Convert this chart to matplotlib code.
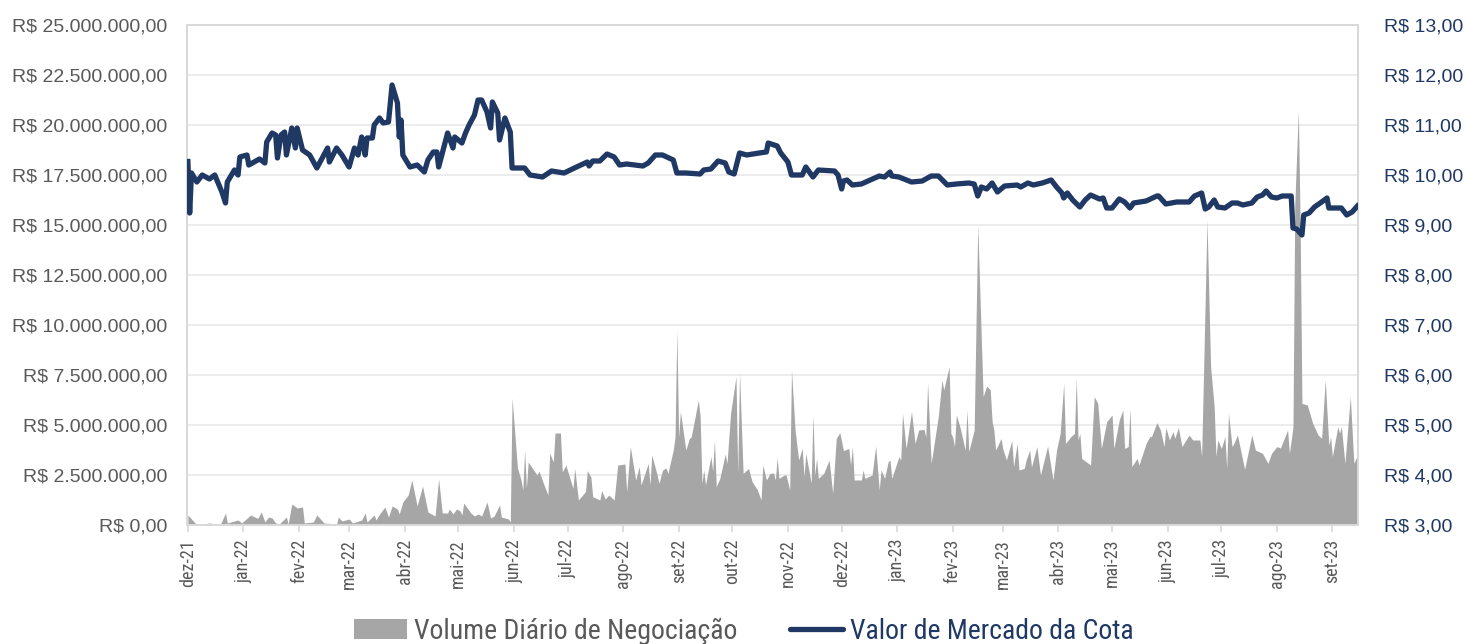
import numpy as np
import pandas as pd
import matplotlib
matplotlib.use('Agg')
import matplotlib.pyplot as plt
import matplotlib.dates as mdates
from matplotlib import font_manager
from matplotlib.font_manager import FontProperties
from matplotlib.patches import Patch
from matplotlib.lines import Line2D
from matplotlib.ticker import FuncFormatter

# dados (dias contados a partir de 01/12/2021)
start = pd.Timestamp('2021-12-01')

price_days = [0, 1, 2, 5, 8, 12, 15, 19, 21, 22,
              26, 28, 29, 33, 34, 40, 43, 44, 47, 49,
              50, 52, 54, 55, 58, 60, 61, 64, 68, 72,
              78, 79, 83, 86, 90, 93, 95, 97, 99, 100,
              103, 104, 107, 109, 112, 114, 117, 118, 119, 120,
              124, 128, 132, 134, 137, 139, 140, 145, 148, 149,
              153, 155, 157, 160, 162, 164, 167, 169, 170, 173,
              174, 177, 180, 181, 188, 191, 198, 203, 210, 217,
              223, 224, 226, 230, 234, 238, 241, 245, 254, 257,
              261, 265, 271, 273, 278, 286, 288, 292, 296, 300,
              302, 305, 308, 312, 319, 323, 324, 329, 331, 335,
              337, 343, 345, 349, 352, 361, 363, 365, 366, 368,
              371, 376, 381, 386, 389, 392, 393, 397, 404, 410,
              415, 419, 424, 429, 436, 439, 441, 443, 446, 449,
              452, 456, 463, 465, 469, 472, 477, 482, 485, 488,
              489, 491, 494, 498, 501, 504, 509, 511, 513, 516,
              520, 523, 526, 528, 535, 541, 542, 546, 552, 559,
              562, 566, 568, 570, 573, 575, 579, 583, 586, 589,
              594, 597, 600, 602, 605, 608, 611, 616, 617, 619,
              622, 623, 626, 629, 633, 636, 637, 641, 644, 647,
              650, 653]
price = [10.27, 9.24, 10.04, 9.86, 10.00, 9.92, 10.00, 9.66, 9.44, 9.86,
         10.10, 10.00, 10.36, 10.40, 10.20, 10.32, 10.24, 10.66, 10.84, 10.80,
         10.34, 10.80, 10.86, 10.40, 10.94, 10.54, 10.94, 10.50, 10.40, 10.14,
         10.54, 10.26, 10.54, 10.40, 10.16, 10.54, 10.40, 10.76, 10.40, 10.74,
         10.74, 11.00, 11.14, 11.04, 11.06, 11.80, 11.44, 10.76, 11.10, 10.40,
         10.16, 10.20, 10.06, 10.30, 10.46, 10.46, 10.16, 10.84, 10.54, 10.76,
         10.64, 10.84, 11.00, 11.20, 11.50, 11.50, 11.26, 10.94, 11.46, 11.24,
         10.70, 11.14, 10.86, 10.14, 10.14, 10.00, 9.96, 10.08, 10.04, 10.16,
         10.26, 10.18, 10.28, 10.28, 10.42, 10.36, 10.20, 10.22, 10.18, 10.24,
         10.40, 10.40, 10.30, 10.04, 10.04, 10.02, 10.10, 10.12, 10.28, 10.24,
         10.06, 10.02, 10.44, 10.40, 10.44, 10.46, 10.64, 10.58, 10.44, 10.26,
         10.00, 10.00, 10.16, 9.96, 10.10, 10.08, 10.00, 9.72, 9.88, 9.90,
         9.80, 9.82, 9.90, 9.98, 9.96, 10.06, 9.98, 9.96, 9.86, 9.88,
         9.98, 9.98, 9.80, 9.82, 9.84, 9.82, 9.58, 9.76, 9.72, 9.84,
         9.66, 9.78, 9.80, 9.76, 9.84, 9.80, 9.84, 9.90, 9.76, 9.64,
         9.54, 9.64, 9.50, 9.36, 9.50, 9.60, 9.52, 9.54, 9.34, 9.34,
         9.52, 9.46, 9.34, 9.44, 9.48, 9.58, 9.58, 9.42, 9.46, 9.46,
         9.58, 9.64, 9.32, 9.36, 9.50, 9.36, 9.34, 9.44, 9.44, 9.40,
         9.44, 9.56, 9.60, 9.68, 9.56, 9.54, 9.58, 9.58, 8.94, 8.92,
         8.80, 9.20, 9.24, 9.36, 9.46, 9.54, 9.34, 9.34, 9.34, 9.20,
         9.26, 9.38]

vol_days = [0, 1, 5, 12, 18, 21, 22, 26, 28, 30,
            35, 39, 41, 43, 45, 47, 49, 51, 55, 56,
            58, 61, 64, 65, 70, 72, 76, 83, 84, 86,
            90, 92, 97, 99, 100, 104, 105, 107, 110, 112,
            114, 117, 118, 120, 123, 125, 128, 131, 134, 138,
            140, 142, 145, 146, 148, 150, 152, 153, 154, 158,
            160, 162, 164, 167, 169, 171, 174, 175, 179, 180,
            181, 184, 186, 187, 188, 189, 190, 193, 195, 196,
            198, 201, 202, 204, 205, 208, 209, 210, 211, 215,
            216, 218, 222, 223, 225, 226, 230, 231, 233, 235,
            238, 240, 244, 245, 247, 250, 252, 253, 257, 258,
            259, 262, 263, 265, 267, 268, 271, 272, 273, 274,
            275, 278, 280, 281, 285, 286, 287, 288, 289, 292,
            293, 294, 295, 297, 300, 301, 303, 306, 307, 308,
            310, 313, 315, 318, 320, 321, 323, 325, 327, 328,
            329, 330, 333, 334, 336, 337, 339, 341, 343, 344,
            345, 348, 349, 350, 351, 352, 355, 358, 360, 362,
            364, 366, 369, 370, 371, 372, 376, 377, 378, 382,
            384, 386, 387, 389, 391, 392, 393, 397, 398, 399,
            401, 404, 406, 408, 411, 412, 413, 415, 419, 421,
            422, 425, 426, 427, 428, 429, 431, 434, 435, 436,
            439, 441, 444, 446, 448, 449, 450, 451, 454, 455,
            457, 460, 461, 463, 464, 467, 468, 470, 471, 474,
            476, 480, 483, 485, 487, 489, 490, 493, 495, 496,
            497, 498, 499, 504, 506, 508, 510, 513, 516, 517,
            520, 522, 523, 525, 526, 527, 530, 531, 535, 537,
            538, 541, 543, 545, 546, 548, 550, 551, 553, 555,
            559, 561, 565, 566, 569, 571, 573, 574, 575, 577,
            579, 580, 581, 583, 584, 586, 590, 594, 596, 600,
            603, 605, 608, 610, 614, 615, 617, 618, 620, 621,
            622, 625, 628, 631, 633, 635, 637, 638, 639, 642,
            643, 644, 646, 649, 651, 653]
# volume em milhões de R$
volume = [0.50, 0.40, 0.00, 0.10, 0.00, 0.60, 0.10, 0.20, 0.25, 0.10,
          0.50, 0.33, 0.65, 0.15, 0.40, 0.35, 0.10, 0.05, 0.40, 0.05,
          1.05, 0.85, 0.90, 0.10, 0.15, 0.50, 0.10, 0.05, 0.40, 0.20,
          0.30, 0.10, 0.25, 0.60, 0.15, 0.50, 0.25, 0.55, 0.90, 0.40,
          0.95, 0.80, 0.55, 1.15, 1.50, 2.25, 0.95, 1.95, 0.65, 0.45,
          2.30, 0.60, 0.60, 0.80, 0.55, 0.80, 0.70, 0.50, 1.10, 0.60,
          0.45, 0.55, 0.45, 1.15, 0.35, 0.45, 1.00, 0.40, 0.30, 0.15,
          6.35, 2.85, 2.25, 1.75, 3.75, 1.85, 3.15, 2.75, 2.50, 2.70,
          2.20, 1.50, 3.60, 3.15, 4.60, 4.60, 2.67, 2.80, 3.00, 1.83,
          2.83, 1.25, 1.67, 2.72, 2.40, 1.42, 1.25, 1.72, 1.30, 1.50,
          1.25, 3.00, 3.05, 1.67, 3.92, 2.25, 2.92, 2.00, 3.08, 2.00,
          3.50, 2.50, 2.08, 2.75, 2.85, 2.58, 3.75, 4.42, 9.78, 4.42,
          5.67, 3.75, 4.33, 4.40, 6.25, 5.42, 2.08, 2.75, 2.00, 3.42,
          2.70, 4.25, 1.92, 2.33, 3.55, 3.08, 5.58, 7.42, 2.58, 7.62,
          2.58, 2.83, 2.17, 1.75, 1.25, 3.00, 2.25, 2.58, 2.60, 2.25,
          3.38, 2.33, 2.50, 2.50, 1.75, 7.75, 4.75, 3.25, 3.83, 2.42,
          3.58, 2.08, 5.50, 2.50, 3.33, 2.33, 2.58, 3.25, 1.58, 4.33,
          4.62, 3.72, 3.83, 3.00, 3.92, 2.25, 2.25, 2.75, 2.33, 2.50,
          3.95, 1.75, 2.75, 2.33, 3.17, 3.25, 2.33, 3.42, 3.25, 5.58,
          3.83, 5.67, 4.08, 4.75, 4.78, 4.40, 7.08, 3.08, 5.45, 7.25,
          6.75, 7.92, 4.58, 4.40, 3.92, 5.50, 4.92, 3.75, 5.75, 3.67,
          4.75, 15.00, 6.42, 6.95, 6.75, 5.17, 4.75, 3.75, 4.33, 3.80,
          3.25, 4.22, 2.92, 4.08, 2.75, 2.83, 3.25, 3.75, 2.90, 3.92,
          2.50, 3.95, 2.25, 3.75, 4.58, 7.08, 4.08, 4.42, 4.58, 7.33,
          4.25, 4.58, 3.33, 3.00, 6.42, 6.08, 3.83, 5.17, 5.50, 3.83,
          5.25, 5.75, 3.83, 3.92, 5.83, 2.92, 3.33, 3.00, 4.08, 4.42,
          4.42, 5.12, 4.75, 3.92, 4.88, 4.25, 4.67, 4.33, 4.88, 3.92,
          4.50, 4.25, 4.25, 3.42, 15.25, 7.92, 5.92, 3.42, 4.25, 3.83,
          4.42, 2.83, 5.58, 3.92, 4.08, 4.50, 2.78, 4.50, 3.75, 3.58,
          3.08, 3.58, 3.92, 3.85, 4.75, 3.58, 4.90, 16.00, 20.75, 15.00,
          6.08, 6.00, 5.08, 4.50, 4.33, 7.25, 4.00, 4.40, 3.42, 4.92,
          4.60, 4.92, 3.08, 6.42, 3.08, 3.50]

month_labels = ['dez-21', 'jan-22', 'fev-22', 'mar-22', 'abr-22', 'mai-22',
                'jun-22', 'jul-22', 'ago-22', 'set-22', 'out-22', 'nov-22',
                'dez-22', 'jan-23', 'fev-23', 'mar-23', 'abr-23', 'mai-23',
                'jun-23', 'jul-23', 'ago-23', 'set-23']

legend_labels = ['Volume Diário de Negociação', 'Valor de Mercado da Cota']

GRAY = '#a6a6a6'
NAVY = '#1f3864'
TXT = '#595959'

plt.rcParams['font.family'] = ['Liberation Sans', 'DejaVu Sans']


# fonte estreita (tipo Arial Narrow) se houver alguma instalada
def pick_narrow():
    fonts = font_manager.fontManager.ttflist
    prefs = [('Liberation Sans Narrow', 13, 21), ('Roboto Condensed', 13, 20),
             ('Open Sans Condensed', 12, 19), ('DejaVu Sans', 11.5, 18)]
    for name, xs, ls in prefs:
        for f in fonts:
            if f.name == name and f.weight in (400, 'normal', 'regular') and f.style == 'normal':
                if name == 'Liberation Sans Narrow' or 'ondensed' in str(f.stretch) or 'Condensed' in f.fname:
                    return FontProperties(fname=f.fname), xs, ls
    return FontProperties(family='Liberation Sans'), 10, 17


narrow_fp, xfs, lfs = pick_narrow()

price_x = start + pd.to_timedelta(price_days, unit='D')
vol_x = start + pd.to_timedelta(vol_days, unit='D')

fig = plt.figure(figsize=(14.67, 6.44), dpi=100)
ax = fig.add_axes([187 / 1467, 1 - 525 / 644, (1358 - 187) / 1467, 500 / 644])
ax2 = ax.twinx()

# volume (eixo esquerdo)
ax.fill_between(vol_x, np.array(volume) * 1e6, 0, color=GRAY, lw=0, zorder=2)
ax.set_ylim(0, 25e6)
ax.set_yticks(np.arange(0, 25e6 + 1, 2.5e6))


def brl(v, pos):
    s = f"{v:,.2f}".replace(',', 'X').replace('.', ',').replace('X', '.')
    return 'R$ ' + s


ax.yaxis.set_major_formatter(FuncFormatter(brl))
ax.grid(axis='y', color='#ebebeb', lw=1.3, zorder=0)
ax.set_axisbelow(True)

# cota (eixo direito)
ax2.plot(price_x, price, color=NAVY, lw=3.8, solid_joinstyle='round', zorder=3)
ax2.set_ylim(3, 13)
ax2.set_yticks(np.arange(3, 14, 1))
ax2.yaxis.set_major_formatter(FuncFormatter(lambda v, p: f"R$ {v:.2f}".replace('.', ',')))

x0 = mdates.date2num(start)
ax.set_xlim(x0 - 0.5, x0 + 653.3)
ticks = pd.date_range(start, periods=len(month_labels), freq='MS')
ax.set_xticks(ticks)
ax.set_xticklabels(month_labels, rotation=90, color=TXT)
for t in ax.get_xticklabels():
    t.set_fontproperties(narrow_fp)
    t.set_fontsize(xfs)
ax.tick_params(axis='x', length=5, color='#d9d9d9', width=1.2, pad=5)
ax.tick_params(axis='y', length=0, pad=14, labelsize=14, labelcolor=TXT)
ax2.tick_params(axis='y', length=0, pad=19, labelsize=14, labelcolor=NAVY)

for a in (ax, ax2):
    for s in a.spines.values():
        s.set_color('#d9d9d9')
        s.set_linewidth(1.3)

leg_fp = narrow_fp.copy()
leg_fp.set_size(lfs)
handles = [Patch(facecolor=GRAY, edgecolor='none'),
           Line2D([], [], color=NAVY, lw=3.8, solid_capstyle='round')]
leg = fig.legend(handles, legend_labels, loc='center', bbox_to_anchor=(0.507, 0.02),
                 ncol=2, frameon=False, prop=leg_fp,
                 handlelength=1.9, handletextpad=0.25, columnspacing=1.9,
                 handleheight=0.7, borderpad=0)
leg.get_texts()[0].set_color(TXT)
leg.get_texts()[1].set_color(NAVY)

fig.savefig('out.png', dpi=100)
